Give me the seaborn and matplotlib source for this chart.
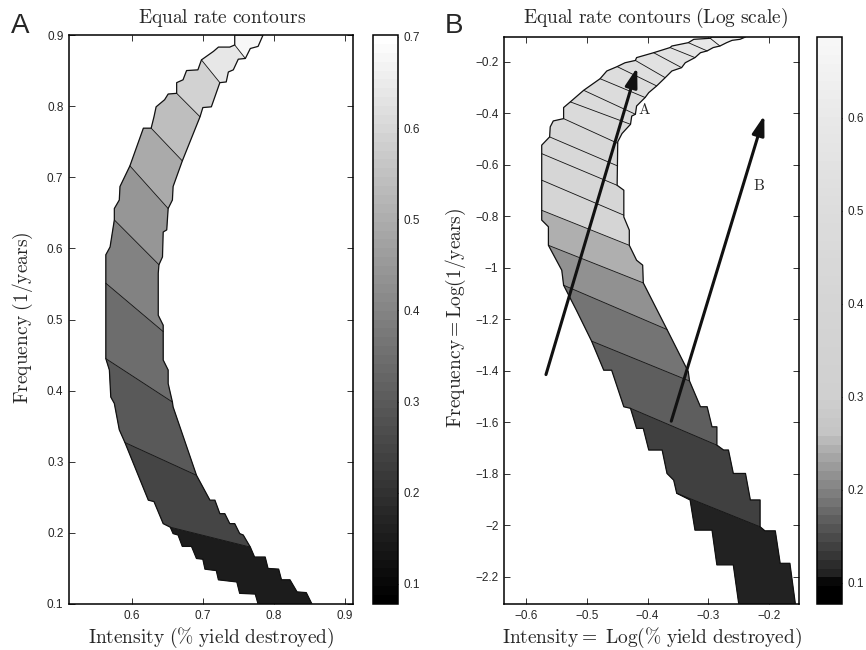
import numpy as np
import pandas as pd
import seaborn as sns
import matplotlib
matplotlib.use("Agg")
import matplotlib.pyplot as plt
import matplotlib.cm as cm
import matplotlib.colors as colors
from matplotlib.ticker import FuncFormatter

# ---------------- panel A : band outline (bottom -> top) ----------------
a_left_x = [0.778, 0.774, 0.752, 0.748, 0.722, 0.719, 0.703, 0.700, 0.691, 0.684, 0.671, 0.665,
            0.658, 0.654, 0.644, 0.631, 0.623, 0.590, 0.582, 0.575, 0.570, 0.568, 0.563, 0.563,
            0.563, 0.569, 0.575, 0.575, 0.582, 0.583, 0.597, 0.616, 0.627, 0.631, 0.634, 0.646,
            0.651, 0.663, 0.663, 0.672, 0.677, 0.693, 0.698, 0.715, 0.722, 0.738, 0.745, 0.745]
a_left_y = [0.100, 0.114, 0.115, 0.131, 0.134, 0.147, 0.149, 0.163, 0.164, 0.181, 0.181, 0.197,
            0.199, 0.208, 0.213, 0.244, 0.246, 0.327, 0.345, 0.382, 0.391, 0.429, 0.445, 0.551,
            0.591, 0.602, 0.640, 0.656, 0.668, 0.687, 0.716, 0.769, 0.769, 0.785, 0.799, 0.809,
            0.817, 0.818, 0.833, 0.837, 0.850, 0.851, 0.865, 0.877, 0.883, 0.883, 0.886, 0.900]
a_right_x = [0.854, 0.846, 0.833, 0.823, 0.811, 0.807, 0.792, 0.788, 0.773, 0.767, 0.757, 0.752,
             0.745, 0.738, 0.731, 0.724, 0.717, 0.710, 0.691, 0.658, 0.657, 0.651, 0.651, 0.644,
             0.644, 0.644, 0.637, 0.637, 0.638, 0.643, 0.644, 0.649, 0.651, 0.657, 0.658, 0.671,
             0.696, 0.700, 0.712, 0.724, 0.733, 0.736, 0.743, 0.750, 0.760, 0.767, 0.778, 0.785]
a_right_y = [0.100, 0.116, 0.117, 0.134, 0.134, 0.149, 0.150, 0.166, 0.166, 0.180, 0.197, 0.199,
             0.213, 0.213, 0.227, 0.227, 0.246, 0.246, 0.281, 0.377, 0.384, 0.410, 0.429, 0.443,
             0.483, 0.492, 0.506, 0.565, 0.577, 0.588, 0.623, 0.626, 0.656, 0.668, 0.687, 0.723,
             0.785, 0.798, 0.799, 0.833, 0.834, 0.848, 0.851, 0.866, 0.867, 0.881, 0.884, 0.900]
# equal-rate contour lines (left end -> right end), bottom -> top
a_cut_x0 = [0.654, 0.590, 0.563, 0.563, 0.575, 0.597, 0.627, 0.663, 0.698, 0.745]
a_cut_y0 = [0.208, 0.327, 0.445, 0.551, 0.640, 0.716, 0.769, 0.818, 0.865, 0.886]
a_cut_x1 = [0.767, 0.691, 0.657, 0.644, 0.638, 0.651, 0.671, 0.696, 0.724, 0.760]
a_cut_y1 = [0.180, 0.281, 0.384, 0.483, 0.577, 0.656, 0.723, 0.785, 0.833, 0.867]
a_band_values = [0.155, 0.245, 0.295, 0.345, 0.39, 0.44, 0.49, 0.54, 0.59, 0.635, 0.675]
a_cbar_range = (0.078, 0.702)
a_cbar_ticks = [0.1, 0.2, 0.3, 0.4, 0.5, 0.6, 0.7]

# ---------------- panel B : band outline (bottom -> top) ----------------
b_left_x = [-0.250, -0.259, -0.286, -0.294, -0.322, -0.330, -0.352, -0.357, -0.368, -0.376,
            -0.398, -0.407, -0.418, -0.428, -0.439, -0.459, -0.472, -0.492, -0.517, -0.538,
            -0.541, -0.563, -0.563, -0.574, -0.574, -0.561, -0.560, -0.555, -0.538, -0.538,
            -0.527, -0.505, -0.478, -0.467, -0.450, -0.437, -0.420, -0.418, -0.390, -0.363,
            -0.360, -0.333, -0.324, -0.297, -0.294]
b_left_y = [-2.305, -2.153, -2.153, -2.018, -2.018, -1.901, -1.875, -1.824, -1.798, -1.707,
            -1.707, -1.623, -1.623, -1.545, -1.539, -1.397, -1.397, -1.284, -1.164, -1.067,
            -1.009, -0.912, -0.840, -0.814, -0.523, -0.491, -0.452, -0.429, -0.420, -0.377,
            -0.355, -0.310, -0.265, -0.235, -0.218, -0.203, -0.194, -0.183, -0.164, -0.144,
            -0.138, -0.125, -0.112, -0.108, -0.103]
b_right_x = [-0.157, -0.166, -0.182, -0.190, -0.207, -0.215, -0.215, -0.231, -0.239, -0.259,
             -0.267, -0.275, -0.286, -0.286, -0.294, -0.302, -0.313, -0.331, -0.333, -0.368,
             -0.407, -0.408, -0.418, -0.430, -0.430, -0.439, -0.439, -0.450, -0.449, -0.442,
             -0.437, -0.428, -0.426, -0.420, -0.418, -0.404, -0.398, -0.385, -0.371, -0.360,
             -0.344, -0.338, -0.322, -0.313, -0.302, -0.292, -0.281, -0.270, -0.261, -0.248,
             -0.239]
b_right_y = [-2.305, -2.147, -2.147, -2.021, -2.021, -2.005, -1.901, -1.901, -1.798, -1.798,
             -1.707, -1.707, -1.688, -1.617, -1.617, -1.539, -1.539, -1.439, -1.403, -1.239,
             -1.058, -0.989, -0.970, -0.912, -0.853, -0.802, -0.698, -0.679, -0.510, -0.478,
             -0.465, -0.442, -0.410, -0.403, -0.371, -0.338, -0.319, -0.293, -0.261, -0.235,
             -0.222, -0.203, -0.183, -0.164, -0.157, -0.144, -0.138, -0.125, -0.116, -0.112,
             -0.103]
b_cut_x0 = [-0.352, -0.428, -0.492, -0.538, -0.563, -0.574, -0.574, -0.574, -0.561, -0.538,
            -0.527, -0.505, -0.478, -0.450, -0.420, -0.390, -0.363, -0.333, -0.297]
b_cut_y0 = [-1.875, -1.545, -1.284, -1.067, -0.912, -0.776, -0.659, -0.556, -0.491, -0.420,
            -0.355, -0.310, -0.265, -0.218, -0.194, -0.164, -0.144, -0.125, -0.108]
b_cut_x1 = [-0.215, -0.286, -0.331, -0.368, -0.407, -0.430, -0.439, -0.450, -0.449, -0.449,
            -0.428, -0.420, -0.404, -0.385, -0.371, -0.344, -0.322, -0.302, -0.281]
b_cut_y1 = [-2.005, -1.688, -1.439, -1.239, -1.058, -0.912, -0.795, -0.679, -0.604, -0.516,
            -0.442, -0.403, -0.338, -0.293, -0.261, -0.222, -0.183, -0.157, -0.138]
b_band_values = [0.108, 0.142, 0.172, 0.19, 0.218, 0.248, 0.40, 0.415, 0.43, 0.445, 0.46,
                 0.475, 0.49, 0.505, 0.52, 0.535, 0.55, 0.575, 0.60, 0.635]
b_cbar_range = (0.077, 0.687)
b_cbar_ticks = [0.1, 0.2, 0.3, 0.4, 0.5, 0.6]
# grey map of panel B colour bar (value -> grey level)
b_cmap_nodes = [0.077, 0.095, 0.10, 0.13, 0.16, 0.18, 0.20, 0.22, 0.245, 0.26, 0.30, 0.40,
                0.50, 0.60, 0.687]
b_cmap_grays = [0.0, 0.0, 0.11, 0.23, 0.35, 0.44, 0.52, 0.60, 0.70, 0.77, 0.815, 0.835,
                0.865, 0.91, 0.97]

# arrows in panel B
arrow_names = ["A", "B"]
arrow_tail_x = [-0.567, -0.361]
arrow_tail_y = [-1.414, -1.595]
arrow_head_x = [-0.417, -0.208]
arrow_head_y = [-0.221, -0.407]
arrow_text_x = [-0.405, -0.216]
arrow_text_y = [-0.383, -0.681]


def cumlen(P):
    d = np.hypot(*np.diff(P, axis=0).T)
    return np.concatenate([[0.0], np.cumsum(d)])


def locate(P, s, p):
    a = P[:-1]
    d = P[1:] - a
    t = np.clip(((p - a) * d).sum(1) / (d ** 2).sum(1), 0, 1)
    q = a + t[:, None] * d
    i = np.argmin(np.hypot(*(q - p).T))
    return s[i] + t[i] * (s[i + 1] - s[i])


def point_at(P, s, v):
    i = int(np.clip(np.searchsorted(s, v, side="right") - 1, 0, len(P) - 2))
    t = (v - s[i]) / (s[i + 1] - s[i])
    return P[i] + t * (P[i + 1] - P[i])


def piece(P, s, v0, v1):
    inner = P[(s > v0 + 1e-9) & (s < v1 - 1e-9)]
    return np.vstack([point_at(P, s, v0), inner, point_at(P, s, v1)])


def band_polygons(lx, ly, rx, ry, cx0, cy0, cx1, cy1, span):
    L = np.column_stack([lx, ly]) / span
    R = np.column_stack([rx, ry]) / span
    sl, sr = cumlen(L), cumlen(R)
    tl = [0.0] + [locate(L, sl, np.array(p) / span) for p in zip(cx0, cy0)] + [sl[-1]]
    tr = [0.0] + [locate(R, sr, np.array(p) / span) for p in zip(cx1, cy1)] + [sr[-1]]
    polys = []
    for k in range(len(tl) - 1):
        poly = np.vstack([piece(L, sl, tl[k], tl[k + 1]), piece(R, sr, tr[k], tr[k + 1])[::-1]])
        polys.append(poly * span)
    return polys


def fmt(v, pos):
    return f"{v:g}".replace("-", "\u2212")


def draw_panel(ax, lx, ly, rx, ry, cx0, cy0, cx1, cy1, values, cmap, norm, xlim, ylim):
    span = np.array([xlim[1] - xlim[0], ylim[1] - ylim[0]])
    for poly, v in zip(band_polygons(lx, ly, rx, ry, cx0, cy0, cx1, cy1, span), values):
        c = cmap(norm(v))
        ax.fill(poly[:, 0], poly[:, 1], facecolor=c, edgecolor=c, lw=0.3, zorder=1)
    n = len(cx0)
    cuts = pd.DataFrame({"x": np.column_stack([cx0, cx1]).ravel(),
                         "y": np.column_stack([cy0, cy1]).ravel(),
                         "cut": np.repeat(np.arange(n), 2)})
    sns.lineplot(data=cuts, x="x", y="y", units="cut", estimator=None, sort=False,
                 color="#111111", lw=0.6, legend=False, ax=ax, zorder=2)
    ox = np.r_[lx, rx[::-1], lx[0]]
    oy = np.r_[ly, ry[::-1], ly[0]]
    ax.plot(ox, oy, color="#111111", lw=0.9, zorder=3)
    ax.set_xlim(xlim)
    ax.set_ylim(ylim)
    ax.set_xlabel("")
    ax.set_ylabel("")
    ax.tick_params(direction="in", top=True, right=True, length=4, width=0.7,
                   labelsize=8.5, color="#333333", pad=4)
    ax.xaxis.set_major_formatter(FuncFormatter(fmt))
    ax.yaxis.set_major_formatter(FuncFormatter(fmt))
    for sp in ax.spines.values():
        sp.set_color("black")
        sp.set_linewidth(1.1)


def draw_cbar(fig, rect, cmap, norm, ticks):
    cax = fig.add_axes(rect)
    cb = fig.colorbar(cm.ScalarMappable(norm=norm, cmap=cmap), cax=cax)
    cb.set_ticks(ticks)
    cax.yaxis.set_major_formatter(FuncFormatter(fmt))
    cax.tick_params(direction="in", left=True, right=True, length=4, width=0.7,
                    labelsize=8.5, color="#333333", pad=4)
    cb.outline.set_linewidth(1.1)
    cb.outline.set_edgecolor("black")


sns.set_style("ticks")
plt.rcParams["font.family"] = ["Liberation Sans", "DejaVu Sans"]
plt.rcParams["mathtext.fontset"] = "cm"

fig = plt.figure(figsize=(8.66, 6.5), dpi=100)
W, H = 866.0, 650.0

# panel A
cmap_a = plt.get_cmap("gray").resampled(64)
norm_a = colors.Normalize(*a_cbar_range)
ax_a = fig.add_axes([69 / W, 46 / H, 284 / W, 569 / H])
draw_panel(ax_a, np.array(a_left_x), np.array(a_left_y), np.array(a_right_x), np.array(a_right_y),
           a_cut_x0, a_cut_y0, a_cut_x1, a_cut_y1, a_band_values, cmap_a, norm_a,
           (0.511, 0.912), (0.1, 0.9))
ax_a.set_xticks([0.6, 0.7, 0.8, 0.9])
ax_a.set_yticks([0.1, 0.2, 0.3, 0.4, 0.5, 0.6, 0.7, 0.8, 0.9])
draw_cbar(fig, [373 / W, 46 / H, 25 / W, 569 / H], cmap_a, norm_a, a_cbar_ticks)

# panel B
pos = (np.array(b_cmap_nodes) - b_cbar_range[0]) / (b_cbar_range[1] - b_cbar_range[0])
cmap_b = colors.LinearSegmentedColormap.from_list(
    "b_gray", [(p, (g, g, g)) for p, g in zip(pos, b_cmap_grays)], N=64)
norm_b = colors.Normalize(*b_cbar_range)
ax_b = fig.add_axes([504 / W, 46 / H, 295 / W, 567 / H])
draw_panel(ax_b, np.array(b_left_x), np.array(b_left_y), np.array(b_right_x), np.array(b_right_y),
           b_cut_x0, b_cut_y0, b_cut_x1, b_cut_y1, b_band_values, cmap_b, norm_b,
           (-0.636, -0.151), (-2.305, -0.103))
ax_b.set_xticks([-0.6, -0.5, -0.4, -0.3, -0.2])
ax_b.set_yticks([-2.2, -2.0, -1.8, -1.6, -1.4, -1.2, -1.0, -0.8, -0.6, -0.4, -0.2])
draw_cbar(fig, [817 / W, 46 / H, 25 / W, 567 / H], cmap_b, norm_b, b_cbar_ticks)

for name, tx, ty, hx, hy, lx, ly in zip(arrow_names, arrow_tail_x, arrow_tail_y, arrow_head_x,
                                         arrow_head_y, arrow_text_x, arrow_text_y):
    ax_b.annotate("", xy=(hx, hy), xytext=(tx, ty),
                  arrowprops=dict(arrowstyle="-|>,head_length=0.9,head_width=0.28",
                                  color="#111111", lw=2.2, mutation_scale=13,
                                  shrinkA=0, shrinkB=0), zorder=5)
    ax_b.text(lx, ly, r"$\mathrm{%s}$" % name, fontsize=11, ha="center", va="center", zorder=5)

# titles, labels, panel letters
fig.text(222 / W, 1 - 23 / H, r"$\mathrm{Equal\ rate\ contours}$", fontsize=14,
         ha="center", va="baseline")
fig.text(656 / W, 1 - 23 / H, r"$\mathrm{Equal\ rate\ contours\ (Log\ scale)}$", fontsize=14,
         ha="center", va="baseline")
fig.text(211 / W, 1 - 638 / H, r"$\mathrm{Intensity\ (\%\ yield\ destroyed)}$", fontsize=14,
         ha="center", va="center")
fig.text(652 / W, 1 - 638 / H, r"$\mathrm{Intensity{=}\ Log(\%\ yield\ destroyed)}$", fontsize=14,
         ha="center", va="center")
fig.text(23 / W, 1 - 318 / H, r"$\mathrm{Frequency\ (1/years)}$", fontsize=14,
         ha="center", va="center", rotation=90)
fig.text(456 / W, 1 - 318 / H, r"$\mathrm{Frequency{=}Log(1/years)}$", fontsize=14,
         ha="center", va="center", rotation=90)
fig.text(11 / W, 1 - 33 / H, "A", fontsize=20, ha="left", va="baseline")
fig.text(445 / W, 1 - 33 / H, "B", fontsize=20, ha="left", va="baseline")

fig.savefig("out.png", dpi=100)
